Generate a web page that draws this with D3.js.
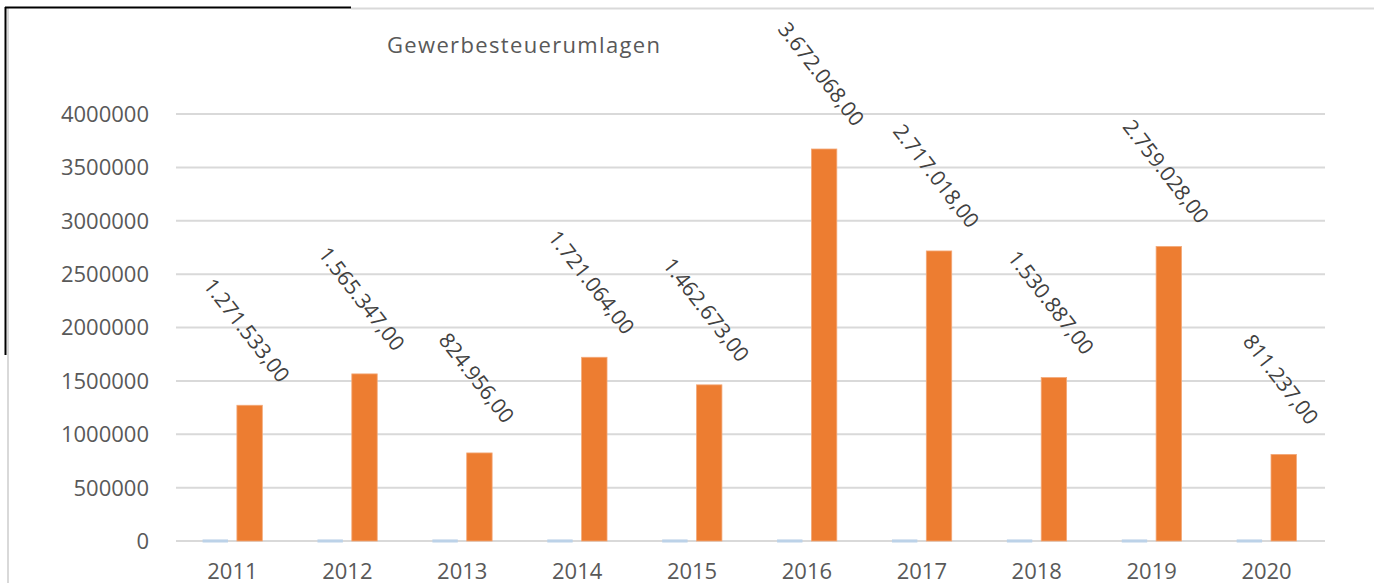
<!DOCTYPE html>
<html>
<head>
<meta charset="utf-8">
<script src="https://cdn.jsdelivr.net/npm/d3@7"></script>
<style>
  body { margin: 0; background: #fff; }
  svg { display: block; font-family: "Open Sans", sans-serif; }
</style>
</head>
<body>
<div id="chart"></div>
<script>
const years = ["2011", "2012", "2013", "2014", "2015", "2016", "2017", "2018", "2019", "2020"];
// the small light-blue series sits just on the baseline
const series1 = [10000, 10000, 10000, 10000, 10000, 10000, 10000, 10000, 10000, 10000];
const umlagen = [1271533, 1565347, 824956, 1721064, 1462673, 3672068, 2717018, 1530887, 2759028, 811237];
const yTicks = [0, 500000, 1000000, 1500000, 2000000, 2500000, 3000000, 3500000, 4000000];
const title = "Gewerbesteuerumlagen";

const W = 1374, H = 583;
const svg = d3.select("#chart").append("svg")
  .attr("width", W)
  .attr("height", H);

// frame
svg.append("line").attr("x1", 351).attr("x2", W).attr("y1", 8.5).attr("y2", 8.5)
  .attr("stroke", "#d9d9d9").attr("stroke-width", 2);
svg.append("line").attr("x1", 8).attr("x2", 8).attr("y1", 8).attr("y2", H)
  .attr("stroke", "#d9d9d9").attr("stroke-width", 2);
svg.append("line").attr("x1", 5).attr("x2", 351).attr("y1", 7.5).attr("y2", 7.5)
  .attr("stroke", "#000").attr("stroke-width", 2);
svg.append("line").attr("x1", 5.5).attr("x2", 5.5).attr("y1", 7).attr("y2", 355)
  .attr("stroke", "#000").attr("stroke-width", 2);

const x0 = d3.scaleBand().domain(years).range([175, 1324]).paddingInner(0.48).paddingOuter(0.24);
const x1 = d3.scaleBand().domain(["s1", "s2"]).range([0, x0.bandwidth()]).paddingInner(0.26);
const y = d3.scaleLinear().domain([0, 4000000]).range([541, 114]);

// gridlines
svg.append("g")
  .selectAll("line")
  .data(yTicks)
  .join("line")
  .attr("x1", 176).attr("x2", 1325)
  .attr("y1", d => y(d)).attr("y2", d => y(d))
  .attr("stroke", "#d9d9d9")
  .attr("stroke-width", 2);

// y labels
svg.append("g")
  .selectAll("text")
  .data(yTicks)
  .join("text")
  .attr("x", 149)
  .attr("y", d => y(d))
  .attr("dy", "0.36em")
  .attr("text-anchor", "end")
  .attr("fill", "#595959")
  .style("font-size", "22px")
  .text(d => d);

// x labels
svg.append("g")
  .selectAll("text")
  .data(years)
  .join("text")
  .attr("x", d => x0(d) + x0.bandwidth() / 2)
  .attr("y", 579)
  .attr("text-anchor", "middle")
  .attr("fill", "#595959")
  .style("font-size", "22px")
  .text(d => d);

// bars
svg.append("g")
  .selectAll("rect")
  .data(years.map((yr, i) => ({ yr, v: series1[i] })))
  .join("rect")
  .attr("x", d => x0(d.yr) + x1("s1"))
  .attr("width", x1.bandwidth())
  .attr("y", d => y(d.v) - 0.5)
  .attr("height", d => y(0) - y(d.v) + 2)
  .attr("fill", "#bcd2e8");

svg.append("g")
  .selectAll("rect")
  .data(years.map((yr, i) => ({ yr, v: umlagen[i] })))
  .join("rect")
  .attr("x", d => x0(d.yr) + x1("s2"))
  .attr("width", x1.bandwidth())
  .attr("y", d => y(d.v))
  .attr("height", d => y(0) - y(d.v))
  .attr("fill", "#ed7d31")
  .attr("stroke", "#f3a878")
  .attr("stroke-width", 0.8);

// data labels
const fmt = v => d3.format(",")(v).replace(/,/g, ".") + ",00";
svg.append("g")
  .selectAll("text")
  .data(years.map((yr, i) => ({ yr, v: umlagen[i] })))
  .join("text")
  .attr("transform", d => `translate(${x0(d.yr) + x1("s2") + x1.bandwidth() / 2 - 3},${y(d.v) - 75}) rotate(52)`)
  .attr("text-anchor", "middle")
  .attr("dy", "0.35em")
  .attr("fill", "#404040")
  .style("font-size", "21px")
  .text(d => fmt(d.v));

// title
svg.append("text")
  .attr("x", 387)
  .attr("y", 53)
  .attr("fill", "#595959")
  .style("font-size", "22px")
  .attr("textLength", 273)
  .attr("lengthAdjust", "spacing")
  .text(title);
</script>
</body>
</html>
